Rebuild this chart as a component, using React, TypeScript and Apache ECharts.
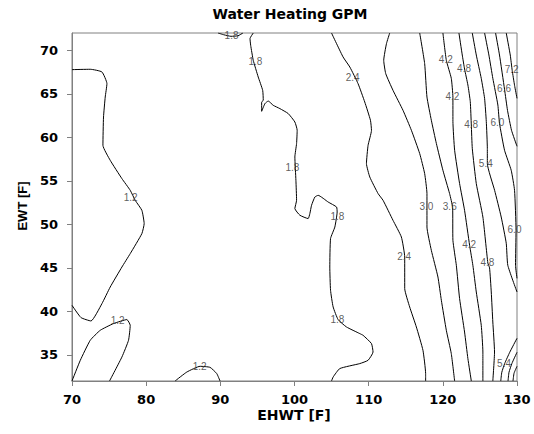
import { useEffect, useRef } from 'react';
import * as echarts from 'echarts';

type P = [number, number];

const X_TICKS = [70, 80, 90, 100, 110, 120, 130];
const Y_TICKS = [35, 40, 45, 50, 55, 60, 65, 70];

const LEVEL_12_A: P[] = [[70,67.79],[72.46,67.83],[74.04,67.52],[74.71,66.18],[74.48,64.64],[74.25,62.34],[74.17,59.09],[75.15,57.37],[76.73,55.26],[77.85,53.92],[78.52,52.77],[79.42,51.62],[79.73,50.09],[79.42,48.94],[77.85,46.64],[76.73,45.10],[75.15,42.80],[74.04,40.90],[72.56,38.90],[71.21,39.29],[70,40.70]];
const LEVEL_12_B: P[] = [[70,32],[71.12,34.38],[72.46,36.68],[73.81,37.83],[75.60,38.60],[77.40,39.06],[77.85,38.40],[77.62,36.68],[76.73,34.76],[75.06,32]];
const LEVEL_12_C: P[] = [[83.90,32],[85.48,33.03],[87.27,33.69],[88.61,33.57],[89.52,32.85],[89.96,32]];
const LEVEL_18_A: P[] = [[89.69,72],[90.50,71.79],[91.44,71.62],[92.38,71.68],[93.05,72]];
const LEVEL_18_B: P[] = [[94.44,72],[94.00,71.36],[94.09,70.59],[94.44,68.86],[95.11,66.94],[95.71,65.41],[95.79,64.26],[95.57,64.07],[95.57,63.0],[96.02,63.89],[96.46,64.18],[97.13,63.69],[98.03,63.31],[99.15,62.74],[100.05,61.77],[100.36,60.82],[100.28,59.29],[100.05,57.75],[100.19,55.07],[100.28,52.77],[100.05,51.82],[100.73,51.05],[101.84,50.67],[102.07,51.24],[102.30,52.20],[102.75,53.15],[103.19,53.34],[104.54,52.57],[105.67,52.0],[105.75,51.43],[105.44,49.70],[104.86,48.37],[104.76,45.10],[104.86,42.43],[105.21,40.51],[105.88,39.06],[107.01,38.21],[108.80,37.45],[109.25,37.25],[110.38,36.30],[110.59,35.33],[109.92,34.38],[108.80,34.0],[106.11,33.43],[105.21,32.46],[104.99,32]];
const LEVEL_24: P[] = [[104.99,72],[106.55,69.24],[107.46,68.09],[108.57,66.18],[109.47,64.07],[110.24,61.97],[110.38,60.82],[109.92,59.09],[109.70,56.99],[110.15,55.45],[111.27,53.54],[111.94,52.77],[113.28,50.47],[114.41,48.55],[114.86,46.25],[114.86,42.62],[115.53,40.51],[116.43,38.21],[117.32,35.53],[117.68,32.85],[117.68,32]];
const LEVEL_30: P[] = [[112.84,72],[112.40,70.78],[112.03,68.86],[112.30,67.33],[113.28,65.41],[114.63,63.11],[115.76,60.82],[116.88,58.14],[117.55,55.84],[117.86,53.54],[117.86,49.70],[118.45,47.02],[119.34,43.95],[119.80,41.28],[120.47,37.83],[121.14,35.15],[121.59,32]];
const LEVEL_36: P[] = [[116.88,72],[117.55,68.48],[117.86,64.64],[118.45,61.97],[119.13,59.29],[120.01,56.22],[120.91,53.54],[121.32,51.94],[121.36,48.17],[121.82,45.30],[122.26,41.47],[122.93,37.63],[123.38,34.57],[123.84,32]];
const LEVEL_42: P[] = [[120.01,72],[120.47,68.86],[121.14,66.79],[121.36,64.61],[121.36,61.85],[121.59,58.52],[122.26,54.69],[122.93,51.62],[123.61,47.60],[124.05,45.30],[124.51,42.23],[125.18,38.40],[125.40,35.33],[125.40,32]];
const LEVEL_48: P[] = [[122.17,72],[122.62,69.47],[122.93,67.86],[123.38,66.02],[123.70,64.11],[123.84,61.43],[123.97,58.75],[124.51,54.69],[125.40,50.85],[126.07,45.56],[126.30,45.0],[126.53,42.23],[126.74,38.78],[126.97,35.33],[126.74,32]];
const LEVEL_54_A: P[] = [[123.97,72],[124.51,69.47],[125.18,66.79],[125.63,64.49],[125.86,61.82],[126.0,58.75],[126.0,57.0],[126.98,53.92],[127.87,50.85],[128.55,47.83],[128.76,45.30],[130,42.23]];
const LEVEL_54_B: P[] = [[130,36.91],[129.02,35.30],[128.35,34.03],[127.95,33.0],[127.81,32]];
const LEVEL_60_A: P[] = [[125.63,72],[126.21,69.47],[126.74,66.79],[127.42,63.72],[127.64,61.62],[128.32,58.52],[129.22,56.22],[129.67,53.92],[129.87,49.32],[129.80,45.30],[130,43.80]];
const LEVEL_60_B: P[] = [[130,35.30],[129.32,34.03],[128.92,33.0],[128.79,32]];
const LEVEL_66_A: P[] = [[127.11,72],[127.64,69.47],[128.32,65.53],[128.72,63.11],[129.26,60.82],[130,58.98]];
const LEVEL_66_B: P[] = [[130,33.69],[129.60,32.89],[129.46,32]];
const LEVEL_72: P[] = [[128.55,72],[129.09,69.47],[129.35,67.71],[129.67,65.99],[130,64.49]];

const LABELS_12: P[] = [[77.98,52.98],[76.23,38.86],[87.27,33.57]];
const LABELS_18: P[] = [[91.58,71.68],[94.8,68.63],[99.79,56.45],[105.85,50.82],[105.85,39.03]];
const LABELS_24: P[] = [[107.9,66.79],[114.86,46.22]];
const LABELS_30: P[] = [[117.86,52.0]];
const LABELS_36: P[] = [[121.0,51.97]];
const LABELS_42: P[] = [[120.47,68.86],[121.36,64.61],[123.61,47.60]];
const LABELS_48: P[] = [[122.93,67.86],[123.88,61.43],[126.07,45.56]];
const LABELS_54: P[] = [[125.86,56.99],[128.32,34.0]];
const LABELS_60: P[] = [[127.42,61.62],[129.73,49.32]];
const LABELS_66: P[] = [[128.32,65.53]];
const LABELS_72: P[] = [[129.35,67.71]];

const CONTOURS: { level: number; lines: P[][]; labels: P[] }[] = [
  { level: 1.2, lines: [LEVEL_12_A, LEVEL_12_B, LEVEL_12_C], labels: LABELS_12 },
  { level: 1.8, lines: [LEVEL_18_A, LEVEL_18_B], labels: LABELS_18 },
  { level: 2.4, lines: [LEVEL_24], labels: LABELS_24 },
  { level: 3.0, lines: [LEVEL_30], labels: LABELS_30 },
  { level: 3.6, lines: [LEVEL_36], labels: LABELS_36 },
  { level: 4.2, lines: [LEVEL_42], labels: LABELS_42 },
  { level: 4.8, lines: [LEVEL_48], labels: LABELS_48 },
  { level: 5.4, lines: [LEVEL_54_A, LEVEL_54_B], labels: LABELS_54 },
  { level: 6.0, lines: [LEVEL_60_A, LEVEL_60_B], labels: LABELS_60 },
  { level: 6.6, lines: [LEVEL_66_A, LEVEL_66_B], labels: LABELS_66 },
  { level: 7.2, lines: [LEVEL_72], labels: LABELS_72 },
];

const AXIS_GRAY = '#808080';
const WIDE_FONT = 'DejaVu Sans';

export default function App() {
  const ref = useRef<HTMLDivElement>(null);
  useEffect(() => {
    const chart = echarts.init(ref.current!, null, { renderer: 'svg' });
    const series: any[] = [];
    CONTOURS.forEach((c) => {
      c.lines.forEach((pts) => {
        series.push({
          type: 'line',
          data: pts,
          showSymbol: false,
          symbol: 'none',
          smooth: 0.15,
          color: '#000',
          lineStyle: { color: '#000', width: 1 },
          silent: true,
          z: 2,
        });
      });
    });
    const labelData: any[] = [];
    CONTOURS.forEach((c) => c.labels.forEach((p) => labelData.push({
      value: [p[0], p[1]],
      name: c.level.toFixed(1),
    })));
    series.push({
      type: 'scatter',
      data: labelData,
      symbolSize: 1,
      color: 'rgba(0,0,0,0)',
      itemStyle: { color: 'rgba(0,0,0,0)' },
      z: 5,
      label: {
        show: true,
        position: [0, 0],
        align: 'center',
        verticalAlign: 'middle',
        formatter: '{b}',
        fontSize: 10,
        fontFamily: 'Liberation Sans',
        color: '#333',
      },
      silent: true,
    });

    chart.setOption({
      animation: false,
      backgroundColor: '#fff',
      grid: { left: 72, right: 17, top: 33, bottom: 53, show: true, borderColor: AXIS_GRAY, borderWidth: 1 },
      xAxis: {
        type: 'value',
        min: 70,
        max: 130,
        interval: 10,
        axisLine: { show: true, onZero: false, lineStyle: { color: AXIS_GRAY, width: 1 } },
        axisTick: { show: true, length: 5, lineStyle: { color: AXIS_GRAY } },
        axisLabel: {
          color: '#000', fontWeight: 'bold', fontFamily: WIDE_FONT, fontSize: 13, margin: 12,
          customValues: X_TICKS,
        },
        splitLine: { show: false },
      },
      yAxis: {
        type: 'value',
        min: 32,
        max: 72,
        axisLine: { show: true, onZero: false, lineStyle: { color: AXIS_GRAY, width: 1 } },
        axisTick: { show: true, length: 5, lineStyle: { color: AXIS_GRAY }, customValues: Y_TICKS },
        axisLabel: {
          color: '#000', fontWeight: 'bold', fontFamily: WIDE_FONT, fontSize: 13, margin: 14,
          customValues: Y_TICKS,
        },
        splitLine: { show: false },
      },
      graphic: [
        {
          type: 'text', x: 290, y: 14,
          style: { text: 'Water Heating GPM', fill: '#000', font: `bold 14px "${WIDE_FONT}"`, textAlign: 'center', textVerticalAlign: 'middle' },
        },
        {
          type: 'text', x: 294, y: 415,
          style: { text: 'EHWT [F]', fill: '#000', font: `bold 14px "${WIDE_FONT}"`, textAlign: 'center', textVerticalAlign: 'middle' },
        },
        {
          type: 'text', x: 22, y: 206, rotation: Math.PI / 2,
          style: { text: 'EWT [F]', fill: '#000', font: 'bold 13px "Liberation Sans"', textAlign: 'center', textVerticalAlign: 'middle' },
        },
      ],
      series,
    });
    return () => chart.dispose();
  }, []);
  return <div ref={ref} style={{ position: 'fixed', left: 0, top: 0, width: 534, height: 434, background: '#fff' }} />;
}
